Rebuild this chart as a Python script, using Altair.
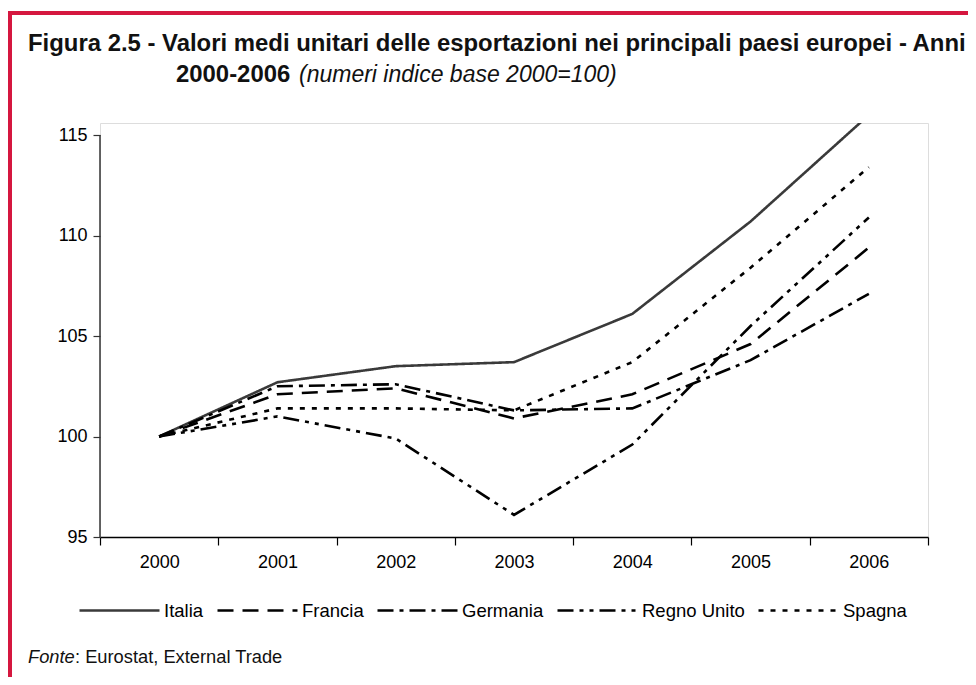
import altair as alt
import pandas as pd

anni = ["2000", "2001", "2002", "2003", "2004", "2005", "2006"]
serie = ["Italia", "Francia", "Germania", "Regno Unito", "Spagna"]
italia = [100, 102.7, 103.5, 103.7, 106.1, 110.7, 116.0]
francia = [100, 102.1, 102.4, 100.9, 102.1, 104.6, 109.4]
germania = [100, 102.5, 102.6, 101.3, 101.4, 103.8, 107.1]
regno_unito = [100, 101.0, 99.9, 96.1, 99.6, 105.5, 110.9]
spagna = [100, 101.4, 101.4, 101.3, 103.7, 108.4, 113.4]
y_ticks = [95, 100, 105, 110, 115]

titolo1 = "Figura 2.5 - Valori medi unitari delle esportazioni nei principali paesi europei - Anni"
titolo2_bold = "2000-2006"
titolo2_it = "(numeri indice base 2000=100)"
fonte_it = "Fonte"
fonte_rest = ": Eurostat, External Trade"

rows = []
for s, vals in zip(serie, [italia, francia, germania, regno_unito, spagna]):
    for a, v in zip(anni, vals):
        rows.append({"anno": a, "serie": s, "valore": v})
df = pd.DataFrame(rows)

FONT = "Liberation Sans"
W, H = 828, 414

legend = alt.Legend(
    title=None, orient="none", legendX=-22, legendY=446, direction="horizontal",
    symbolType="stroke", symbolSize=6400, symbolStrokeWidth=2.6,
    labelFont=FONT, labelFontSize=18.5, labelColor="#000", labelOffset=3,
    columnPadding=8, padding=0,
)

x_enc = alt.X(
    "anno:O", bandPosition=0.5,
    scale=alt.Scale(type="band", domain=anni, paddingInner=0, paddingOuter=0),
    axis=alt.Axis(title=None, tickBand="extent", labelAngle=0, domainColor="#000",
                  domainWidth=1.5, tickColor="#000", tickWidth=1.2, tickSize=8,
                  labelFont=FONT, labelFontSize=18, labelColor="#000", labelPadding=8,
                  grid=False),
)
y_scale = alt.Scale(domain=[95, 115.6], nice=False, zero=False)

lines = alt.Chart(df).mark_line(clip=True, strokeWidth=2.6).encode(
    x=x_enc,
    y=alt.Y("valore:Q", scale=y_scale,
            axis=alt.Axis(values=y_ticks, title=None, domain=False, grid=False,
                          tickColor="#333", tickWidth=1.2, tickSize=7,
                          labelFont=FONT, labelFontSize=18, labelColor="#000",
                          labelPadding=6)),
    color=alt.Color("serie:N", scale=alt.Scale(domain=serie,
                    range=["#3a3a3a", "#000000", "#000000", "#000000", "#000000"]),
                    legend=legend),
    strokeDash=alt.StrokeDash("serie:N", scale=alt.Scale(domain=serie,
                    range=[[1, 0], [16, 9], [16, 6, 4, 6], [16, 6, 4, 6, 4, 6], [5, 7]]),
                    legend=legend),
    order=alt.Order("anno:O"),
)

yaxis_df = pd.DataFrame({"a": [95], "b": [115]})
yaxis_line = alt.Chart(yaxis_df).mark_rule(color="#333", strokeWidth=1.5).encode(
    x=alt.value(0), y=alt.Y("a:Q", scale=y_scale), y2="b:Q"
)

one = pd.DataFrame({"k": [0]})
BORDER = "#d5173f"
border_top = alt.Chart(one).mark_rule(color=BORDER, strokeWidth=4).encode(
    x=alt.value(-92), x2=alt.value(870), y=alt.value(-110)
)
border_left = alt.Chart(one).mark_rule(color=BORDER, strokeWidth=4).encode(
    x=alt.value(-90), y=alt.value(-112), y2=alt.value(570)
)

def txt(text, x, y, size, weight="normal", style="normal"):
    return alt.Chart(one).mark_text(
        text=text, font=FONT, fontSize=size, fontWeight=weight, fontStyle=style,
        align="left", baseline="alphabetic", color="#111"
    ).encode(x=alt.value(x), y=alt.value(y))

t1 = txt(titolo1, -72, -72, 23.9, weight="bold")
t2 = txt(titolo2_bold, 76, -41, 23.9, weight="bold")
t3 = txt(titolo2_it, 199, -41, 23, style="italic")
f1 = txt(fonte_it, -72, 540, 18.3, style="italic")
f2 = txt(fonte_rest, -25, 540, 18.3)

chart = alt.layer(
    border_top, border_left, yaxis_line, lines, t1, t2, t3, f1, f2
).properties(
    width=W, height=H,
    autosize=alt.AutoSizeParams(type="none"),
    padding={"left": 92, "top": 115, "right": 40, "bottom": 140},
).configure_view(stroke=None).configure(background="white")

chart.save("out.html", embed_options={"renderer": "svg", "actions": False})
